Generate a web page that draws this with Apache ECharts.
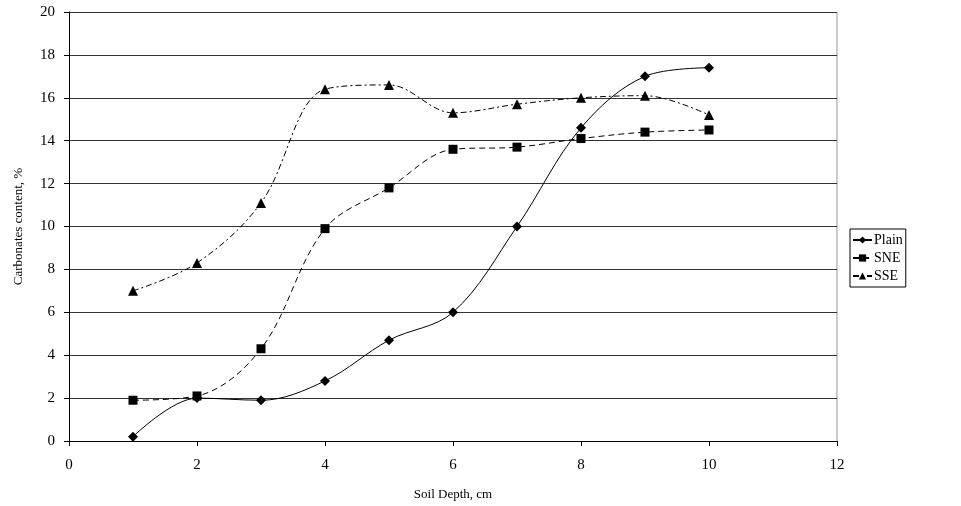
<!DOCTYPE html>
<html><head><meta charset="utf-8">
<script src="https://cdn.jsdelivr.net/npm/echarts@6/dist/echarts.min.js"></script>
<style>html,body{margin:0;padding:0;background:#fff}#c{width:961px;height:506px}</style>
</head><body><div id="c"></div>
<script>
var depth = [1,2,3,4,5,6,7,8,9,10];
var plain = [0.2,2.0,1.9,2.8,4.7,6.0,10.0,14.6,17.0,17.4];
var sne = [1.9,2.1,4.3,9.9,11.8,13.6,13.7,14.1,14.4,14.5];
var sse = [7.0,8.3,11.1,16.4,16.6,15.3,15.7,16.0,16.1,15.2];
var xTicks = [0,2,4,6,8,10,12];
var yTicks = [0,2,4,6,8,10,12,14,16,18,20];

function pairs(v){ return depth.map(function(d,i){ return [d, v[i]]; }); }
var font = 'Liberation Serif';
var chart = echarts.init(document.getElementById('c'));
function ser(name, data, symbol, size, dash){
  return {name:name, type:'line', data:pairs(data), smooth:0.35, symbol:symbol, symbolSize:size,
    itemStyle:{color:'#000'}, lineStyle:{color:'#000', width:1, type:dash}, emphasis:{disabled:true}};
}
chart.setOption({
  animation:false,
  textStyle:{fontFamily:font},
  grid:{left:69, top:12, width:768, height:429, containLabel:false, outerBoundsMode:'none'},
  xAxis:{type:'value', min:xTicks[0], max:xTicks[xTicks.length-1], interval:2,
    name:'Soil Depth, cm', nameLocation:'middle', nameGap:47,
    nameTextStyle:{fontFamily:font, fontSize:13, color:'#000'},
    axisLine:{onZero:false, lineStyle:{color:'#000', width:1}},
    axisTick:{show:true, length:5, lineStyle:{color:'#000'}},
    axisLabel:{fontFamily:font, fontSize:15, color:'#000', margin:17},
    splitLine:{show:false}},
  yAxis:{type:'value', min:yTicks[0], max:yTicks[yTicks.length-1], interval:2,
    name:'Carbonates content, %', nameLocation:'middle', nameGap:44,
    nameTextStyle:{fontFamily:font, fontSize:13, color:'#000'},
    axisLine:{show:true, lineStyle:{color:'#000', width:1}},
    axisTick:{show:true, length:5, lineStyle:{color:'#000'}},
    axisLabel:{fontFamily:font, fontSize:15, color:'#000', margin:14},
    splitLine:{show:true, lineStyle:{color:'#333', width:1}}},
  graphic:[{type:'line', shape:{x1:837, y1:12, x2:837, y2:441}, style:{stroke:'#999', lineWidth:1}}],
  legend:{orient:'vertical', left:850, top:229, itemWidth:19, itemHeight:9, itemGap:4,
    padding:[4,3,4,2], borderColor:'#000', borderWidth:1,
    textStyle:{fontFamily:font, fontSize:14, color:'#000', padding:[0,0,0,-3]},
    data:['Plain','SNE','SSE']},
  series:[
    ser('Plain', plain, 'diamond', 10, 'solid'),
    ser('SNE', sne, 'rect', 9, [6,4]),
    ser('SSE', sse, 'triangle', 10, [6,3,2,3])
  ]
});
</script></body></html>
